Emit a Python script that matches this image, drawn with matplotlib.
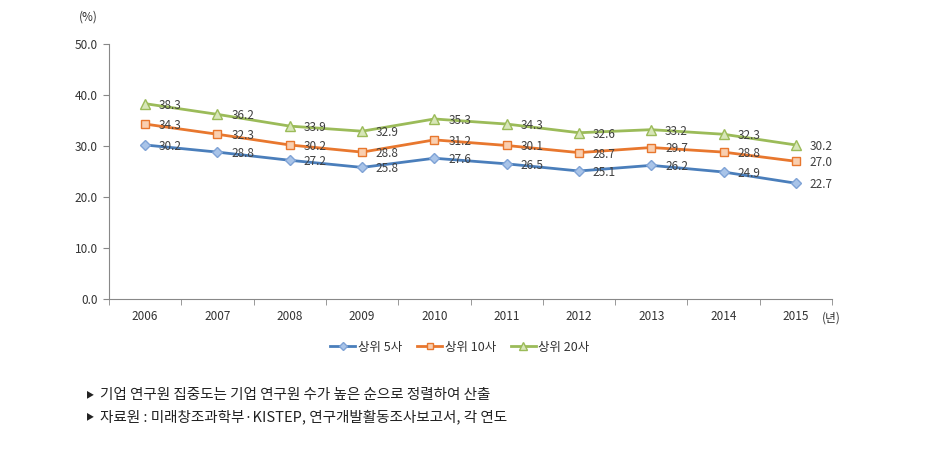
import matplotlib
matplotlib.use("Agg")
import matplotlib.pyplot as plt
from matplotlib.ticker import FixedLocator, NullFormatter

plt.rcParams['font.family'] = ['Noto Sans CJK KR', 'DejaVu Sans']

years = ['2006', '2007', '2008', '2009', '2010', '2011', '2012', '2013', '2014', '2015']
top5 = [30.2, 28.8, 27.2, 25.8, 27.6, 26.5, 25.1, 26.2, 24.9, 22.7]
top10 = [34.3, 32.3, 30.2, 28.8, 31.2, 30.1, 28.7, 29.7, 28.8, 27.0]
top20 = [38.3, 36.2, 33.9, 32.9, 35.3, 34.3, 32.6, 33.2, 32.3, 30.2]
series_names = ['상위 5사', '상위 10사', '상위 20사']
yticks = [0, 10, 20, 30, 40, 50]
notes = ['기업 연구원 집중도는 기업 연구원 수가 높은 순으로 정렬하여 산출',
         '자료원 : 미래창조과학부·KISTEP, 연구개발활동조사보고서, 각 연도']

fig = plt.figure(figsize=(9.43, 4.62), dpi=100)
ax = fig.add_axes([0.1156, 0.3528, 0.7667, 0.552])

styles = [
    dict(color='#4A7EBB', marker='D', mfc='#A9C4E8', mec='#7FA3D6', ms=5),
    dict(color='#E8772E', marker='s', mfc='#F9CFB0', mec='#E8772E', ms=6),
    dict(color='#9BBB59', marker='^', mfc='#D7E6B8', mec='#9BBB59', ms=6.5),
]
x = list(range(len(years)))
for vals, name, st in zip([top5, top10, top20], series_names, styles):
    ax.plot(x, vals, lw=2, label=name, color=st['color'], marker=st['marker'],
            markerfacecolor=st['mfc'], markeredgecolor=st['mec'], markersize=st['ms'],
            markeredgewidth=1)
    for xi, v in zip(x, vals):
        ax.annotate(f'{v:.1f}', (xi, v), xytext=(10, -1), textcoords='offset points',
                    ha='left', va='center', fontsize=8.5, color='#404040')

ax.set_xlim(-0.5, 9.5)
ax.set_ylim(0, 50)
ax.set_yticks(yticks)
ax.set_yticklabels([f'{t:.1f}' for t in yticks], fontsize=8.5, color='#333333')
ax.set_xticks(x)
ax.set_xticklabels(years, fontsize=8.5, color='#333333')
ax.tick_params(axis='x', which='major', length=0, pad=8)
ax.xaxis.set_minor_locator(FixedLocator([i - 0.5 for i in range(11)]))
ax.xaxis.set_minor_formatter(NullFormatter())
ax.tick_params(axis='x', which='minor', length=4, color='#888888')
ax.tick_params(axis='y', length=4, color='#888888', pad=4)
for s in ['top', 'right']:
    ax.spines[s].set_visible(False)
for s in ['left', 'bottom']:
    ax.spines[s].set_color('#888888')

fig.text(88 / 943, 1 - 17 / 462, '(%)', fontsize=8.5, ha='center', va='center', color='#333333')
fig.text(831 / 943, 1 - 318 / 462, '(년)', fontsize=8.5, ha='center', va='center', color='#333333')

leg = fig.legend(loc='center', bbox_to_anchor=(460 / 943, 1 - 347 / 462), ncol=3, frameon=False,
                 fontsize=9, handlelength=2.0, columnspacing=1.2, handletextpad=0.2,
                 markerscale=0.8)
for t in leg.get_texts():
    t.set_color('#333333')

for i, n in enumerate(notes):
    yy = 1 - (395 + 22 * i) / 462
    fig.text(86 / 943, yy, '▶', fontsize=6, ha='left', va='center', color='#222222')
    fig.text(100 / 943, yy, n, fontsize=10.5, ha='left', va='center', color='#222222')

fig.savefig('out.png', dpi=100)
